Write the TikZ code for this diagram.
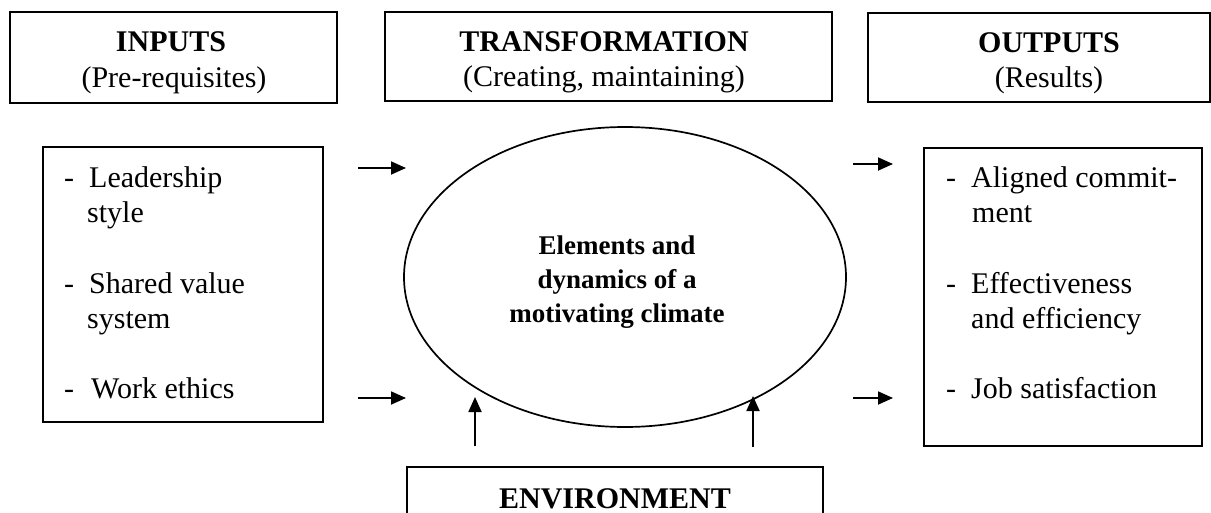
\documentclass[tikz,border=0pt]{standalone}
\usepackage{fontspec}
\setmainfont{Liberation Serif}
\usetikzlibrary{arrows.meta,shapes.geometric}
\begin{document}
\begin{tikzpicture}[x=1pt,y=-1pt,
  box/.style={draw, line width=2pt, inner sep=0pt},
  txt/.style={anchor=base, inner sep=0pt, font=\fontsize{30}{36}\selectfont},
  item/.style={anchor=base west, inner sep=0pt, font=\fontsize{30}{36}\selectfont},
  arr/.style={line width=1.8pt, -{Triangle[length=15pt,width=13pt]}}]
\useasboundingbox (0,0) rectangle (1211,512);
\clip (0,0) rectangle (1211,512);
% header boxes
\node[box, minimum width=327pt, minimum height=91pt] (inbox) at (173.5,57.5) {};
\node[box, minimum width=447pt, minimum height=89pt] (trbox) at (608.5,56) {};
\node[box, minimum width=342pt, minimum height=89pt] (outbox) at (1039,57.5) {};
\node[txt] (inT) at (171,51) {\bfseries INPUTS};
\node[txt] (inS) at (174,87) {(Pre-requisites)};
\node[txt] (trT) at (604,51) {\bfseries TRANSFORMATION};
\node[txt] (trS) at (604,86) {(Creating, maintaining)};
\node[txt] (outT) at (1049,52) {\bfseries OUTPUTS};
\node[txt] (outS) at (1049,87) {(Results)};
% list boxes
\node[box, minimum width=280pt, minimum height=275pt] (inlist) at (183,284.5) {};
\node[box, minimum width=278pt, minimum height=298pt] (outlist) at (1063,297) {};
\node[item] (i1d) at (64,187) {-};
\node[item] (i1) at (89,187) {Leadership};
\node[item] (i1b) at (87,222) {style};
\node[item] (i2d) at (64,293) {-};
\node[item] (i2) at (89,293) {Shared value};
\node[item] (i2b) at (87,328) {system};
\node[item] (i3d) at (64,398) {-};
\node[item] (i3) at (91,398) {Work ethics};
\node[item] (o1d) at (946,187) {-};
\node[item] (o1) at (971,187) {Aligned commit-};
\node[item] (o1b) at (972,222) {ment};
\node[item] (o2d) at (946,293) {-};
\node[item] (o2) at (971,293) {Effectiveness};
\node[item] (o2b) at (971,328) {and efficiency};
\node[item] (o3d) at (946,398) {-};
\node[item] (o3) at (971,398) {Job satisfaction};
% ellipse
\node[draw, ellipse, line width=1.7pt, minimum width=442pt, minimum height=300pt, inner sep=0pt] (ell) at (625,277) {};
\node[align=center, inner sep=0pt, font=\bfseries\fontsize{27}{34}\selectfont] (elltext) at (617,282) {Elements and\\dynamics of a\\motivating climate};
% environment
\node[box, minimum width=416pt, minimum height=120pt] (envbox) at (615,527) {};
\node[txt] (envT) at (615,508) {\bfseries ENVIRONMENT};
% arrows
\coordinate (a1s) at (358,168); \coordinate (a1e) at (406,168);
\coordinate (a2s) at (358,398); \coordinate (a2e) at (406,398);
\coordinate (a3s) at (853,164); \coordinate (a3e) at (893,164);
\coordinate (a4s) at (853,398); \coordinate (a4e) at (893,398);
\coordinate (u1s) at (475,446); \coordinate (u1e) at (475,397);
\coordinate (u2s) at (753,447); \coordinate (u2e) at (753,396);
\draw[arr] (a1s) -- (a1e);
\draw[arr] (a2s) -- (a2e);
\draw[arr] (a3s) -- (a3e);
\draw[arr] (a4s) -- (a4e);
\draw[arr] (u1s) -- (u1e);
\draw[arr] (u2s) -- (u2e);
\end{tikzpicture}
\end{document}
